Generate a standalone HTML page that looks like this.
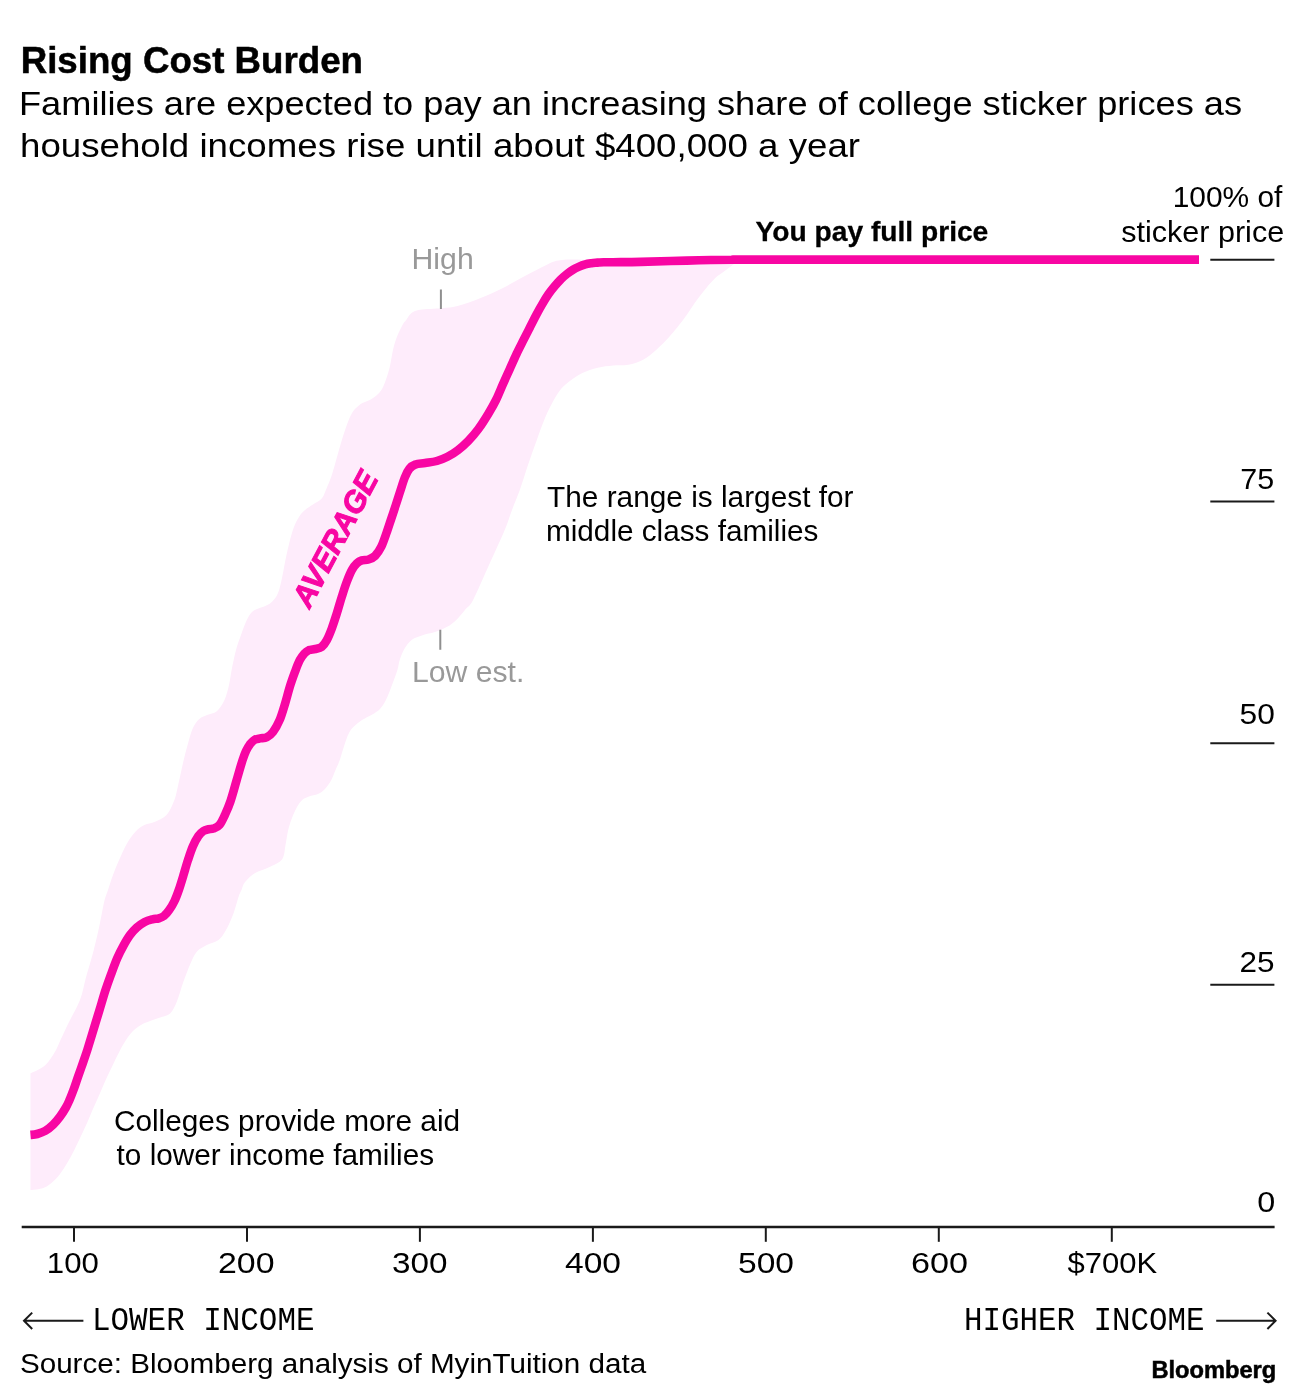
<!DOCTYPE html>
<html lang="en">
<head>
<meta charset="utf-8">
<title>Rising Cost Burden</title>
<style>
html,body{margin:0;padding:0;background:#fff;}
body{width:1307px;height:1399px;overflow:hidden;font-family:"Liberation Sans",sans-serif;}
svg{display:block;}
text{font-family:"Liberation Sans",sans-serif;fill:#000;font-size:28px;}
.b{font-weight:bold;}
.m{font-family:"Liberation Mono",monospace;}
.g{fill:#999;}
.ax path{stroke:#1a1a1a;stroke-width:2;fill:none;}
</style>
</head>
<body>
<svg width="1307" height="1399" viewBox="0 0 1307 1399">
<rect width="1307" height="1399" fill="#fff"/>
<path d="M30.5,1073.2C31.6,1072.7 34.8,1071.6 37.2,1070.3C39.7,1069.0 42.9,1067.2 45.2,1065.2C47.5,1063.2 49.1,1060.8 50.9,1058.3C52.7,1055.8 54.4,1053.0 56.0,1050.0C57.6,1047.0 58.5,1044.3 60.5,1040.0C62.5,1035.7 64.8,1030.7 68.0,1024.0C71.2,1017.3 77.0,1007.6 80.0,1000.0C83.0,992.4 83.9,985.3 85.7,978.6C87.5,971.9 89.5,965.2 91.0,960.0C92.5,954.8 93.2,952.2 94.4,947.2C95.7,942.2 97.3,935.2 98.5,930.0C99.7,924.8 100.4,920.7 101.4,915.7C102.4,910.7 103.5,904.3 104.6,900.0C105.7,895.7 106.6,894.2 108.0,890.0C109.4,885.8 111.2,880.0 113.0,875.0C114.8,870.0 116.8,865.2 119.1,860.0C121.4,854.8 124.3,848.2 127.0,843.5C129.7,838.8 132.5,834.9 135.4,831.8C138.3,828.7 141.1,826.8 144.4,825.1C147.7,823.4 151.3,823.5 155.0,821.8C158.7,820.1 163.3,818.7 166.5,815.1C169.7,811.5 172.4,805.3 174.4,800.0C176.4,794.7 176.9,790.1 178.5,783.4C180.1,776.7 182.1,766.7 183.7,760.0C185.3,753.3 186.5,748.7 188.0,743.4C189.5,738.1 190.9,732.4 192.7,728.4C194.5,724.4 196.6,721.4 199.0,719.2C201.4,717.0 204.0,716.3 207.0,715.0C210.0,713.7 213.9,713.7 216.8,711.2C219.7,708.7 222.5,704.4 224.5,700.0C226.5,695.6 227.8,690.3 229.0,685.0C230.2,679.7 230.8,673.8 232.0,668.0C233.2,662.2 234.5,655.5 236.0,650.0C237.5,644.5 239.2,640.0 241.0,635.0C242.8,630.0 245.0,623.8 246.8,620.0C248.6,616.2 250.1,613.9 252.0,612.0C253.9,610.1 255.4,609.8 258.4,608.4C261.4,607.0 266.9,605.8 270.1,603.4C273.3,601.0 275.6,598.2 277.6,594.0C279.6,589.8 280.5,584.5 282.0,578.0C283.5,571.5 284.7,563.0 286.5,555.0C288.3,547.0 290.8,536.3 292.9,530.0C295.0,523.7 297.0,520.3 299.0,517.0C301.0,513.7 302.7,512.1 305.0,510.0C307.3,507.9 310.2,506.4 313.0,504.5C315.8,502.6 319.6,500.9 321.7,498.5C323.8,496.1 324.1,494.2 325.9,490.0C327.7,485.8 329.6,481.8 332.3,473.5C335.0,465.2 338.8,449.7 341.9,440.0C345.0,430.3 348.0,421.0 351.0,415.1C354.0,409.2 356.9,407.0 360.0,404.5C363.1,402.0 366.8,401.8 369.8,400.0C372.8,398.2 375.7,396.3 378.0,394.0C380.3,391.7 381.6,390.3 383.5,386.0C385.4,381.7 387.8,374.4 389.4,368.4C391.0,362.4 391.8,355.1 393.0,350.0C394.2,344.9 394.9,342.2 396.5,338.0C398.1,333.8 400.9,328.0 402.5,325.0C404.1,322.0 404.8,321.9 406.2,320.0C407.6,318.1 408.7,315.1 411.0,313.4C413.3,311.7 415.0,310.5 420.1,309.7C425.2,308.9 435.4,308.9 441.8,308.3C448.2,307.7 452.1,307.5 458.5,305.8C464.9,304.1 472.6,301.2 480.0,298.2C487.4,295.2 495.4,291.7 503.0,287.9C510.6,284.1 518.8,279.2 525.9,275.5C533.0,271.8 539.4,268.0 545.4,265.4C551.4,262.8 552.9,260.9 562.0,260.0C571.1,259.1 570.8,259.9 600.0,259.8C629.2,259.7 714.2,259.6 737.0,259.6L737.0,262.0C735.8,262.8 732.4,265.2 730.0,267.0C727.6,268.8 725.1,270.8 722.6,272.6C720.1,274.5 718.0,275.5 715.3,278.1C712.5,280.7 709.2,284.5 706.1,288.2C703.0,291.9 699.8,296.1 696.9,300.1C694.0,304.1 691.0,308.7 688.7,312.0C686.4,315.3 686.1,316.0 683.0,320.0C679.9,324.0 674.5,331.0 670.0,336.0C665.5,341.0 660.5,346.1 656.1,350.0C651.7,353.9 648.2,356.9 643.6,359.4C639.0,361.8 633.4,363.7 628.3,364.7C623.2,365.7 618.1,365.0 613.0,365.5C607.9,366.0 602.8,366.5 597.7,367.8C592.6,369.1 587.0,370.9 582.4,373.1C577.8,375.3 573.8,378.2 570.2,380.8C566.6,383.4 563.7,385.8 561.0,389.0C558.3,392.2 556.5,395.2 553.8,400.0C551.1,404.8 547.8,411.3 545.0,418.0C542.2,424.7 539.6,432.2 536.8,440.0C534.0,447.8 530.8,456.7 528.0,465.0C525.2,473.3 522.5,482.5 519.8,490.0C517.1,497.5 514.5,503.3 512.0,510.0C509.5,516.7 508.5,520.8 504.7,530.0C500.9,539.2 494.3,553.3 489.0,565.0C483.7,576.7 477.0,592.6 473.1,600.0C469.2,607.4 468.3,605.9 465.5,609.2C462.7,612.5 459.4,617.0 456.3,619.9C453.2,622.8 450.7,624.8 447.1,626.8C443.5,628.8 439.0,630.7 434.9,632.1C430.8,633.5 426.4,633.9 422.6,635.2C418.8,636.5 414.9,637.5 411.9,639.8C408.8,642.1 406.3,645.6 404.3,649.0C402.3,652.4 400.9,656.5 399.7,660.0C398.5,663.5 398.7,665.8 397.4,670.0C396.1,674.2 393.9,680.0 392.0,685.0C390.1,690.0 387.9,696.0 385.9,700.0C383.9,704.0 382.3,706.5 380.0,709.0C377.7,711.5 374.9,712.9 371.9,714.7C368.9,716.5 364.9,718.1 362.0,720.0C359.1,721.9 356.6,723.8 354.4,726.0C352.2,728.2 350.7,729.8 349.0,733.0C347.3,736.2 345.9,740.5 344.4,745.0C342.9,749.5 341.3,755.8 339.8,760.0C338.3,764.2 336.9,766.7 335.5,770.0C334.1,773.3 333.1,776.8 331.3,780.0C329.6,783.2 327.2,786.7 325.0,789.0C322.8,791.3 320.7,792.8 318.0,794.0C315.3,795.2 311.6,795.5 309.0,796.5C306.4,797.5 304.2,798.2 302.2,800.0C300.2,801.8 298.7,804.0 297.0,807.0C295.3,810.0 293.5,814.2 292.0,818.0C290.5,821.8 289.3,825.5 288.2,830.0C287.1,834.5 286.5,840.1 285.5,845.0C284.5,849.9 284.8,855.8 282.0,859.5C279.2,863.2 273.0,865.2 268.5,867.5C264.0,869.8 259.0,870.6 255.1,873.0C251.2,875.4 247.4,879.2 245.1,882.0C242.8,884.8 242.6,887.5 241.5,890.0C240.4,892.5 239.8,893.1 238.5,897.0C237.2,900.9 235.6,907.9 233.5,913.4C231.4,918.9 228.5,925.5 226.0,930.0C223.5,934.5 221.7,937.6 218.5,940.1C215.3,942.6 210.4,943.2 206.8,945.1C203.2,947.0 199.5,948.7 196.8,951.7C194.1,954.8 192.7,958.4 190.5,963.4C188.3,968.4 185.7,975.4 183.4,981.8C181.1,988.2 179.0,996.5 176.8,1001.8C174.6,1007.1 172.9,1010.9 170.1,1013.5C167.3,1016.1 163.4,1016.4 160.1,1017.6C156.8,1018.9 153.2,1019.8 150.0,1021.0C146.8,1022.2 143.8,1023.3 141.0,1025.0C138.2,1026.7 135.5,1028.5 133.0,1031.0C130.5,1033.5 128.1,1036.8 126.0,1040.0C123.9,1043.2 122.2,1046.2 120.2,1050.0C118.2,1053.8 116.0,1058.3 114.0,1062.5C112.0,1066.7 110.0,1070.7 108.0,1075.0C106.0,1079.3 103.8,1084.3 102.0,1088.5C100.2,1092.7 98.6,1096.4 97.0,1100.0C95.4,1103.6 94.1,1106.3 92.5,1110.0C90.9,1113.7 89.4,1117.7 87.5,1122.0C85.6,1126.3 83.2,1131.3 81.0,1136.0C78.8,1140.7 76.5,1145.6 74.3,1150.0C72.0,1154.4 69.9,1158.5 67.5,1162.5C65.1,1166.5 62.6,1170.7 60.0,1174.0C57.4,1177.3 54.5,1180.3 52.0,1182.5C49.5,1184.7 47.3,1186.2 45.0,1187.3C42.7,1188.4 40.7,1188.8 38.3,1189.2C35.9,1189.7 31.8,1189.9 30.5,1190.0Z" fill="#feecfb"/>
<path d="M30.5,1134.9C31.6,1134.8 34.8,1134.7 37.2,1134.0C39.7,1133.3 42.5,1132.5 45.2,1130.9C47.9,1129.3 50.7,1127.0 53.2,1124.6C55.7,1122.2 57.9,1119.4 60.0,1116.6C62.1,1113.8 64.3,1110.3 65.9,1107.5C67.5,1104.7 68.1,1103.2 69.5,1100.0C70.9,1096.8 72.7,1092.0 74.2,1088.0C75.7,1084.0 76.8,1080.2 78.3,1076.0C79.8,1071.8 81.4,1067.3 82.9,1063.0C84.4,1058.7 85.5,1055.5 87.3,1050.0C89.0,1044.5 91.4,1036.7 93.4,1030.0C95.4,1023.3 97.5,1016.6 99.5,1010.0C101.5,1003.4 103.5,996.3 105.4,990.4C107.3,984.5 108.9,980.1 110.9,974.7C112.9,969.3 115.1,963.1 117.2,958.2C119.3,953.4 121.4,949.4 123.5,945.6C125.6,941.8 127.5,938.4 129.7,935.4C131.9,932.4 134.3,929.7 136.8,927.5C139.3,925.3 142.1,923.4 144.7,922.0C147.3,920.6 150.2,919.9 152.5,919.3C154.8,918.7 156.8,918.9 158.8,918.3C160.8,917.7 162.6,917.1 164.3,915.7C166.0,914.4 167.4,912.7 169.1,910.2C170.8,907.8 172.9,904.4 174.5,901.0C176.1,897.6 177.3,894.3 178.8,890.0C180.3,885.7 182.0,880.0 183.5,875.0C185.0,870.0 186.4,864.8 188.0,860.0C189.6,855.2 191.1,850.5 192.8,846.5C194.5,842.5 196.6,838.6 198.4,836.0C200.2,833.4 201.7,832.1 203.4,831.0C205.1,829.9 206.9,829.7 208.6,829.3C210.3,828.9 211.6,829.3 213.4,828.6C215.2,827.9 217.5,827.4 219.4,825.1C221.3,822.9 223.0,819.0 224.8,815.1C226.6,811.2 228.4,807.4 230.4,801.5C232.4,795.6 234.7,786.9 236.7,780.0C238.7,773.1 241.0,764.8 242.6,760.0C244.2,755.2 244.8,753.6 246.0,751.0C247.2,748.4 248.6,746.1 250.0,744.2C251.4,742.4 252.8,740.9 254.5,739.9C256.2,738.9 258.1,738.8 260.1,738.4C262.2,738.0 264.7,738.3 266.8,737.2C268.9,736.1 270.9,734.8 273.0,732.0C275.1,729.2 277.7,724.7 279.6,720.2C281.5,715.7 282.9,710.7 284.6,705.2C286.3,699.8 287.9,693.1 289.6,687.5C291.3,681.9 293.3,676.4 295.0,671.8C296.7,667.2 298.2,663.1 299.8,660.1C301.4,657.1 302.9,655.2 304.4,653.5C305.9,651.8 307.2,650.9 309.0,650.1C310.8,649.4 313.0,649.5 315.1,649.0C317.2,648.5 319.9,648.3 321.8,646.8C323.8,645.3 325.1,643.2 326.8,640.1C328.5,637.0 330.1,632.9 331.8,628.4C333.5,623.9 335.1,618.7 336.8,613.4C338.5,608.1 340.1,602.0 341.8,596.7C343.5,591.4 345.1,586.1 346.8,581.7C348.5,577.3 350.1,573.2 351.8,570.1C353.5,567.0 355.1,565.0 356.8,563.4C358.5,561.8 359.9,561.0 361.8,560.4C363.8,559.8 366.3,560.2 368.5,559.5C370.7,558.8 373.0,558.0 375.1,555.9C377.2,553.8 379.3,550.8 381.3,546.7C383.3,542.6 385.3,536.3 387.0,531.5C388.7,526.7 390.0,522.4 391.5,518.0C393.0,513.6 394.3,509.5 395.8,505.0C397.3,500.5 398.8,495.6 400.3,491.0C401.8,486.4 403.3,481.2 404.8,477.5C406.3,473.8 407.6,471.0 409.4,468.8C411.2,466.6 413.0,465.3 415.6,464.4C418.2,463.4 421.6,463.7 425.1,463.1C428.6,462.5 433.1,462.1 436.8,461.0C440.5,459.9 444.0,458.6 447.5,456.8C451.0,455.0 454.6,452.7 458.0,450.1C461.4,447.5 464.8,444.5 468.2,441.0C471.6,437.5 475.0,433.6 478.4,429.0C481.8,424.4 485.6,418.3 488.5,413.5C491.4,408.7 493.6,404.9 496.0,400.0C498.4,395.1 500.6,389.4 502.9,384.2C505.2,379.0 507.5,374.0 509.8,368.9C512.1,363.8 514.4,358.5 516.7,353.6C519.0,348.7 521.6,343.8 523.8,339.4C526.0,335.0 528.0,331.2 530.0,327.2C532.0,323.2 534.1,319.0 536.1,315.2C538.1,311.4 540.2,307.6 542.3,304.1C544.3,300.6 546.3,297.3 548.4,294.3C550.5,291.3 552.5,288.8 554.6,286.3C556.7,283.8 558.7,281.6 560.7,279.5C562.8,277.4 564.9,275.6 566.9,274.0C568.9,272.4 571.0,270.9 573.0,269.7C575.0,268.5 577.2,267.5 579.2,266.6C581.2,265.7 583.2,265.0 585.3,264.4C587.3,263.8 589.5,263.5 591.5,263.2C593.5,262.9 595.6,262.8 597.6,262.6C599.6,262.5 601.2,262.4 603.8,262.3C606.4,262.2 606.9,262.3 613.0,262.2C619.1,262.1 628.4,262.2 640.7,261.9C653.0,261.6 671.3,261.0 686.6,260.6C701.9,260.2 716.9,259.9 732.5,259.8C748.1,259.6 702.2,259.7 780.0,259.6C857.8,259.6 1129.2,259.6 1199.0,259.6" fill="none" stroke="#f806a3" stroke-width="8.6" stroke-linejoin="round"/>
<g class="ax">
<path d="M21.7,1227H1274.6" style="stroke-width:2.3"/>
<path d="M74.0,1226.7V1241.8"/><path d="M247.0,1226.7V1241.8"/><path d="M419.9,1226.7V1241.8"/><path d="M592.9,1226.7V1241.8"/><path d="M765.8,1226.7V1241.8"/><path d="M938.8,1226.7V1241.8"/><path d="M1111.8,1226.7V1241.8"/>
<path d="M1210.3,259.8H1274.4"/><path d="M1210.3,501.5H1274.4"/><path d="M1210.3,743.2H1274.4"/><path d="M1210.3,984.8H1274.4"/>
<path d="M24,1320.8H83.4M32.2,1312.6L24,1320.8L32.2,1329"/>
<path d="M1216.2,1320.8H1275.6M1267.4,1312.6L1275.6,1320.8L1267.4,1329"/>
</g>
<path d="M440.9,289.5V309M440.3,629.8V649.8" stroke="#8f8f8f" stroke-width="2" fill="none"/>
<text x="20.7" y="72.6" textLength="342.3" lengthAdjust="spacingAndGlyphs" class="b" style="font-size:36.0px;stroke:#000;stroke-width:0.5;">Rising Cost Burden</text>
<text x="19.0" y="114.8" textLength="1223.0" lengthAdjust="spacingAndGlyphs" style="font-size:33.0px;">Families are expected to pay an increasing share of college sticker prices as</text>
<text x="20.0" y="157.4" textLength="840.0" lengthAdjust="spacingAndGlyphs" style="font-size:33.0px;">household incomes rise until about $400,000 a year</text>
<text x="1282.4" y="207.3" text-anchor="end" textLength="109.7" lengthAdjust="spacingAndGlyphs" style="font-size:29px;">100% of</text>
<text x="1284.2" y="241.5" text-anchor="end" textLength="163.0" lengthAdjust="spacingAndGlyphs" style="font-size:29px;">sticker price</text>
<text x="755.6" y="241.2" textLength="232.7" lengthAdjust="spacingAndGlyphs" class="b" style="font-size:27.0px;stroke:#000;stroke-width:0.3;">You pay full price</text>
<text x="411.5" y="268.6" textLength="62.2" lengthAdjust="spacingAndGlyphs" class="g" style="font-size:30.0px;">High</text>
<text x="412.0" y="682.2" textLength="112.4" lengthAdjust="spacingAndGlyphs" class="g" style="font-size:30.0px;">Low est.</text>
<text x="547.0" y="506.6" textLength="306.5" lengthAdjust="spacingAndGlyphs" style="font-size:29px;">The range is largest for</text>
<text x="546.0" y="540.8" textLength="272.4" lengthAdjust="spacingAndGlyphs" style="font-size:29px;">middle class families</text>
<text x="113.9" y="1130.7" textLength="346.2" lengthAdjust="spacingAndGlyphs" style="font-size:29px;">Colleges provide more aid</text>
<text x="116.6" y="1164.9" textLength="317.5" lengthAdjust="spacingAndGlyphs" style="font-size:29px;">to lower income families</text>
<text x="0.0" y="10.6" text-anchor="middle" class="b" style="font-size:30.5px;fill:#f806a3;font-style:italic;stroke:#f806a3;stroke-width:1.0;" transform="translate(334.9,538.9) rotate(-62)">AVERAGE</text>
<text x="1274.1" y="488.9" text-anchor="end" textLength="33.9" lengthAdjust="spacingAndGlyphs" style="font-size:29px;">75</text>
<text x="1274.8" y="724.0" text-anchor="end" textLength="35.3" lengthAdjust="spacingAndGlyphs" style="font-size:29px;">50</text>
<text x="1274.5" y="971.8" text-anchor="end" textLength="35.0" lengthAdjust="spacingAndGlyphs" style="font-size:29px;">25</text>
<text x="1275.3" y="1212" text-anchor="end" textLength="18.0" lengthAdjust="spacingAndGlyphs" style="font-size:29px;">0</text>
<text x="46.8" y="1273.4" textLength="52.0" lengthAdjust="spacingAndGlyphs" style="font-size:29px;">100</text>
<text x="218.0" y="1273.4" textLength="56.5" lengthAdjust="spacingAndGlyphs" style="font-size:29px;">200</text>
<text x="392.0" y="1273.4" textLength="55.5" lengthAdjust="spacingAndGlyphs" style="font-size:29px;">300</text>
<text x="565.0" y="1273.4" textLength="56.0" lengthAdjust="spacingAndGlyphs" style="font-size:29px;">400</text>
<text x="738.0" y="1273.4" textLength="56.0" lengthAdjust="spacingAndGlyphs" style="font-size:29px;">500</text>
<text x="910.9" y="1273.4" textLength="57.0" lengthAdjust="spacingAndGlyphs" style="font-size:29px;">600</text>
<text x="1067.6" y="1273.4" textLength="89.6" lengthAdjust="spacingAndGlyphs" style="font-size:29px;">$700K</text>
<text x="92.0" y="1330.0" textLength="222.5" lengthAdjust="spacingAndGlyphs" class="m" style="font-size:34.0px;">LOWER INCOME</text>
<text x="964.0" y="1330.0" textLength="240.4" lengthAdjust="spacingAndGlyphs" class="m" style="font-size:34.0px;">HIGHER INCOME</text>
<text x="19.9" y="1372.8" textLength="626.3" lengthAdjust="spacingAndGlyphs" style="font-size:27.0px;">Source: Bloomberg analysis of MyinTuition data</text>
<text x="1151.4" y="1378.0" textLength="124.8" lengthAdjust="spacingAndGlyphs" class="b" style="font-size:23.0px;stroke:#000;stroke-width:0.5;">Bloomberg</text>
</svg>
</body>
</html>
